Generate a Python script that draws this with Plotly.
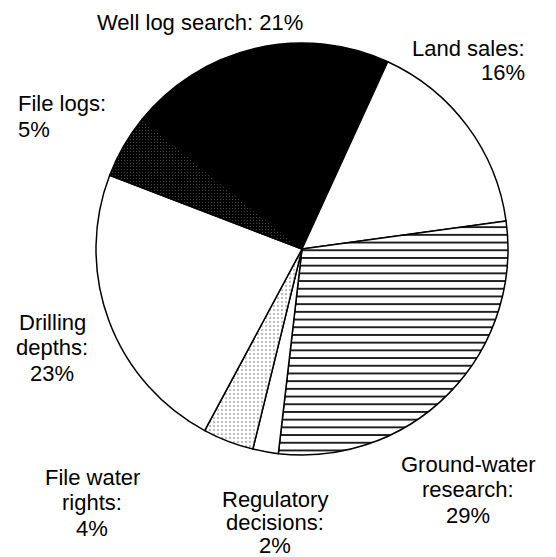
import plotly.graph_objects as go

labels = ["Well log search", "Land sales", "Ground-water research", "Regulatory decisions",
          "File water rights", "Drilling depths", "File logs"]
values = [21, 16, 29, 2, 4, 23, 5]
label_lines = [["Well log search: 21%"], ["Land sales:", "16%"], ["Ground-water", "research:", "29%"],
               ["Regulatory", "decisions:", "2%"], ["File water", "rights:", "4%"],
               ["Drilling", "depths:", "23%"], ["File logs:", "5%"]]

W, H = 556, 557
cx, cy, r = 302, 249, 206

shapes = ["", "", "-", "", ".", "", "."]
bgcolors = ["black", "white", "white", "white", "white", "white", "black"]
fgcolors = ["black", "black", "black", "black", "#666666", "black", "#7a7a7a"]
sizes = [8, 8, 7.7, 8, 4, 8, 3]
solid = [0.3, 0.3, 0.22, 0.3, 0.12, 0.3, 0.08]

fig = go.Figure(go.Pie(
    labels=labels, values=values, sort=False, direction="clockwise", rotation=-51,
    textinfo="none", hoverinfo="label+percent",
    marker=dict(colors=bgcolors, line=dict(color="black", width=1.5),
                pattern=dict(shape=shapes, bgcolor=bgcolors, fgcolor=fgcolors,
                             size=sizes, solidity=solid, fillmode="replace")),
    domain=dict(x=[(cx - r) / W, (cx + r) / W],
                y=[1 - (cy + r) / H, 1 - (cy - r) / H]),
    showlegend=False,
))

# label anchor x, first-line y, line step, anchor
pos = [(200, 23, 25, "center"), (527, 48, 24, "right"), (468, 464, 25.5, "center"),
       (275, 499, 23, "center"), (92, 477, 25.5, "center"), (52, 322, 25.5, "center"),
       (16, 104, 25, "left")]
for lines, (x, y0, step, a) in zip(label_lines, pos):
    for i, t in enumerate(lines):
        fig.add_annotation(x=x / W, y=1 - (y0 + i * step) / H, xref="paper", yref="paper",
                           text=t, showarrow=False, xanchor=a, yanchor="middle", align=a,
                           font=dict(family="Liberation Sans, Arial", size=22, color="black"))

fig.update_layout(width=W, height=H, margin=dict(l=0, r=0, t=0, b=0),
                  paper_bgcolor="white", plot_bgcolor="white")
fig.write_html("out.html", config={"displayModeBar": False},
               post_script="document.body.style.margin='0px';document.body.style.overflow='hidden';")
